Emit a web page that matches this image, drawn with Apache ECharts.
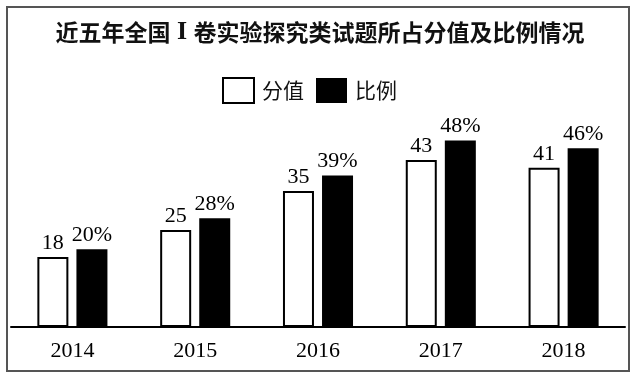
<!DOCTYPE html>
<html>
<head>
<meta charset="utf-8">
<script src="https://cdn.jsdelivr.net/npm/echarts@6/dist/echarts.min.js"></script>
<style>
html,body{margin:0;padding:0;background:#fff;}
#chart{width:640px;height:382px;}
</style>
</head>
<body>
<div id="chart"></div>
<script>
var categories = ['2014', '2015', '2016', '2017', '2018'];
var scoreValues = [18, 25, 35, 43, 41];
var ratioValues = [20, 28, 39, 48, 46];
var seriesNames = ['分值', '比例'];
var titleParts = ['近五年全国', ' I ', '卷实验探究类试题所占分值及比例情况'];

var chart = echarts.init(document.getElementById('chart'), null, {renderer: 'canvas'});
var serif = "'Liberation Serif', 'Times New Roman', serif";
var cjk = "'Noto Sans CJK SC', sans-serif";

chart.setOption({
  backgroundColor: '#ffffff',
  animation: false,
  title: {
    text: titleParts[0] + '{i|' + titleParts[1] + '}' + titleParts[2],
    left: 'center',
    top: 14,
    textStyle: {
      fontFamily: cjk, fontSize: 23, fontWeight: 'bold', color: '#111',
      rich: {i: {fontFamily: serif, fontSize: 26, fontWeight: 'bold', color: '#111'}}
    }
  },
  legend: {
    left: 217,
    top: 72,
    itemWidth: 31,
    itemHeight: 25,
    itemGap: 12,
    icon: 'rect',
    textStyle: {fontFamily: cjk, fontSize: 21, color: '#111', padding: [0, 0, 0, 3]},
    data: seriesNames
  },
  grid: {left: 11, right: 15, top: 94, bottom: 55, containLabel: false},
  xAxis: {
    type: 'category',
    data: categories,
    axisLine: {lineStyle: {color: '#000', width: 2}},
    axisTick: {show: false},
    axisLabel: {fontFamily: serif, fontSize: 22, color: '#000', margin: 13}
  },
  yAxis: {
    type: 'value',
    min: 0,
    max: 60,
    show: false,
    splitLine: {show: false}
  },
  graphic: [{
    type: 'rect',
    shape: {x: 7, y: 7, width: 622, height: 364},
    style: {fill: 'none', stroke: '#555', lineWidth: 2},
    silent: true
  }],
  series: [{
    name: seriesNames[0],
    type: 'bar',
    data: scoreValues,
    barWidth: 31,
    barGap: '26%',
    itemStyle: {color: '#ffffff', borderColor: '#000', borderWidth: 2},
    label: {show: true, position: 'top', distance: 3, fontFamily: serif, fontSize: 22, color: '#000'}
  }, {
    name: seriesNames[1],
    type: 'bar',
    data: ratioValues,
    barWidth: 31,
    barGap: '26%',
    itemStyle: {color: '#000000'},
    label: {show: true, position: 'top', distance: 3, fontFamily: serif, fontSize: 22, color: '#000',
      formatter: function (p) { return p.value + '%'; }}
  }]
});
</script>
</body>
</html>
